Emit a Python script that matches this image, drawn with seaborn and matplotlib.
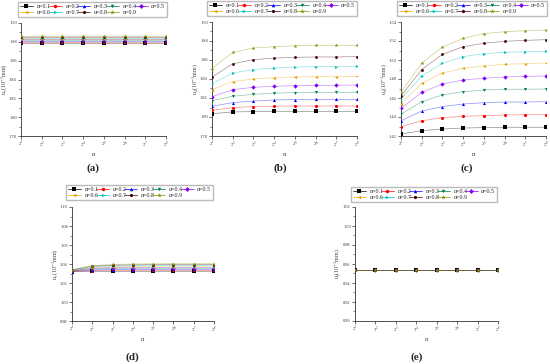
import numpy as np
import pandas as pd
import matplotlib
matplotlib.use('Agg')
import matplotlib.pyplot as plt
import seaborn as sns
from matplotlib.lines import Line2D

# データ
n_vals = [2, 4, 8, 16, 32, 64, 128, 256]
alphas = ['0.1', '0.2', '0.3', '0.4', '0.5', '0.6', '0.7', '0.8', '0.9']

# (a) ほぼ一定
u_a = {
    '0.1': [1.8790] * 8, '0.2': [1.8799] * 8, '0.3': [1.8808] * 8,
    '0.4': [1.8817] * 8, '0.5': [1.8826] * 8, '0.6': [1.8835] * 8,
    '0.7': [1.8843] * 8, '0.8': [1.8851] * 8, '0.9': [1.8860] * 8,
}
# (b)
u_b = {
    '0.1': [1.8035, 1.8053, 1.8057, 1.8060, 1.8060, 1.8060, 1.8060, 1.8060],
    '0.2': [1.8070, 1.8099, 1.8110, 1.8113, 1.8116, 1.8116, 1.8116, 1.8116],
    '0.3': [1.8113, 1.8152, 1.8168, 1.8179, 1.8183, 1.8186, 1.8186, 1.8186],
    '0.4': [1.8173, 1.8218, 1.8239, 1.8250, 1.8257, 1.8260, 1.8260, 1.8260],
    '0.5': [1.8215, 1.8288, 1.8313, 1.8323, 1.8330, 1.8334, 1.8334, 1.8337],
    '0.6': [1.8288, 1.8373, 1.8400, 1.8415, 1.8421, 1.8425, 1.8425, 1.8428],
    '0.7': [1.8350, 1.8463, 1.8499, 1.8516, 1.8526, 1.8530, 1.8530, 1.8534],
    '0.8': [1.8420, 1.8560, 1.8604, 1.8620, 1.8628, 1.8632, 1.8632, 1.8636],
    '0.9': [1.8510, 1.8680, 1.8726, 1.8740, 1.8750, 1.8755, 1.8755, 1.8755],
}
# (c)
u_c = {
    '0.1': [1.4220, 1.4256, 1.4274, 1.4284, 1.4288, 1.4292, 1.4292, 1.4292],
    '0.2': [1.4300, 1.4360, 1.4393, 1.4407, 1.4414, 1.4421, 1.4424, 1.4424],
    '0.3': [1.4360, 1.4463, 1.4509, 1.4537, 1.4551, 1.4558, 1.4558, 1.4561],
    '0.4': [1.4430, 1.4560, 1.4632, 1.4666, 1.4684, 1.4692, 1.4692, 1.4695],
    '0.5': [1.4490, 1.4660, 1.4747, 1.4790, 1.4807, 1.4821, 1.4828, 1.4832],
    '0.6': [1.4540, 1.4755, 1.4863, 1.4913, 1.4937, 1.4955, 1.4961, 1.4968],
    '0.7': [1.4590, 1.4832, 1.4965, 1.5035, 1.5067, 1.5081, 1.5087, 1.5091],
    '0.8': [1.4620, 1.4900, 1.5060, 1.5140, 1.5176, 1.5197, 1.5207, 1.5214],
    '0.9': [1.4660, 1.4965, 1.5137, 1.5228, 1.5277, 1.5298, 1.5308, 1.5316],
}
# (d)
u_d = {
    '0.1': [1.0320, 1.0322, 1.0323, 1.0323, 1.0323, 1.0323, 1.0323, 1.0323],
    '0.2': [1.0322, 1.0330, 1.0332, 1.0333, 1.0333, 1.0333, 1.0333, 1.0333],
    '0.3': [1.0325, 1.0338, 1.0341, 1.0342, 1.0343, 1.0343, 1.0343, 1.0343],
    '0.4': [1.0328, 1.0347, 1.0351, 1.0352, 1.0353, 1.0353, 1.0353, 1.0353],
    '0.5': [1.0330, 1.0355, 1.0360, 1.0362, 1.0363, 1.0363, 1.0363, 1.0363],
    '0.6': [1.0332, 1.0362, 1.0368, 1.0370, 1.0371, 1.0371, 1.0371, 1.0371],
    '0.7': [1.0335, 1.0370, 1.0378, 1.0381, 1.0382, 1.0383, 1.0383, 1.0383],
    '0.8': [1.0337, 1.0377, 1.0387, 1.0391, 1.0393, 1.0394, 1.0394, 1.0394],
    '0.9': [1.0340, 1.0383, 1.0395, 1.0400, 1.0402, 1.0403, 1.0403, 1.0403],
}
# (e) 一定
u_e = {a: [0.9535] * 8 for a in alphas}

colors = {'0.1': '#000000', '0.2': '#FF0000', '0.3': '#0000FF', '0.4': '#008040',
          '0.5': '#8000FF', '0.6': '#E6A000', '0.7': '#00C0C0', '0.8': '#400000',
          '0.9': '#909000'}
markers = {'0.1': 's', '0.2': 'o', '0.3': '^', '0.4': 'v', '0.5': 'D',
           '0.6': '<', '0.7': '>', '0.8': 'h', '0.9': '*'}

panels = [
    ('(a)', u_a, (1.78, 1.90), 'u$_s$(10$^{-3}$mm)', [21, 136, 145, 113], [15, 3, 155, 17], (93, 168)),
    ('(b)', u_b, (1.78, 1.90), 'u$_d$(10$^{-3}$mm)', [212, 136, 145, 114], [204, 3, 156, 16], (280, 168)),
    ('(c)', u_c, (1.42, 1.54), 'u$_d$(10$^{-3}$mm)', [401, 136, 145, 114], [394, 3, 156, 16], (467, 168)),
    ('(d)', u_d, (0.98, 1.10), 'u$_r$(10$^{-3}$mm)', [72, 321, 142, 114], [63, 188, 153, 15], (132, 357)),
    ('(e)', u_e, (0.90, 1.02), 'u$_f$(10$^{-3}$mm)', [355, 321, 143, 114], [348, 189, 152, 16], (417, 357)),
]

# 凡例は行方向に並べる（matplotlibは列方向に埋めるので並べ替え）
legend_order = [0, 5, 1, 6, 2, 7, 3, 8, 4]

sns.set_style('ticks')
plt.rcParams['font.family'] = ['Liberation Serif', 'DejaVu Serif']
plt.rcParams['mathtext.fontset'] = 'stix'

W, H = 550, 364
fig = plt.figure(figsize=(W / 100, H / 100), dpi=100)

for tag, data, ylim, ylabel, (l, b, w, h), (lx, ly, lw, lh), (tx, ty) in panels:
    ax = fig.add_axes([l / W, 1 - b / H, w / W, h / H])
    rows = []
    for a in alphas:
        for n, v in zip(n_vals, data[a]):
            rows.append({'n': n, 'u': v, 'alpha': a})
    df = pd.DataFrame(rows)
    sns.lineplot(data=df, x='n', y='u', hue='alpha', palette=colors, linewidth=0.5,
                 alpha=0.45, legend=False, ax=ax)
    for a in alphas:
        sub = df[df['alpha'] == a]
        ms = 9 if markers[a] == '*' else 5
        sns.scatterplot(data=sub, x='n', y='u', color=colors[a], marker=markers[a],
                        s=ms, linewidth=0, legend=False, ax=ax, zorder=3)
    ax.set_xscale('log', base=2)
    ax.set_xlim(2, 256)
    ax.set_xticks(n_vals)
    ax.set_xticklabels([f'$2^{{{k}}}$' for k in range(1, 9)])
    ax.minorticks_off()
    ax.set_ylim(*ylim)
    yt = np.round(np.arange(ylim[0], ylim[1] + 0.001, 0.02), 2)
    ax.set_yticks(yt)
    ax.set_yticklabels([f'{v:.2f}' for v in yt])
    ax.set_yticks(np.arange(ylim[0] + 0.01, ylim[1], 0.02), minor=True)
    ax.tick_params(axis='both', labelsize=3.2, length=2, width=0.5, pad=1.0, colors='#333333')
    ax.tick_params(axis='y', which='minor', length=1.2, width=0.4)
    ax.tick_params(axis='x', which='minor', length=0)
    sns.despine(ax=ax)
    for s in ['left', 'bottom']:
        ax.spines[s].set_linewidth(0.6)
        ax.spines[s].set_color('#333333')
    ax.set_xlabel('n', fontsize=5, labelpad=2, color='#444444')
    ax.set_ylabel(ylabel, fontsize=4.3, color='#444444')
    ax.yaxis.set_label_coords(-11 / w, 0.5)

    handles = [Line2D([0], [0], color=colors[a], marker=markers[a], markersize=2.5 if markers[a] != '*' else 3.5,
                      linewidth=0.5, markeredgewidth=0) for a in alphas]
    labels = [f'α={a}' for a in alphas]
    fig.legend([handles[i] for i in legend_order], [labels[i] for i in legend_order],
               ncol=5, fontsize=4.3, frameon=True, fancybox=False,
               edgecolor='#aaaaaa', handlelength=2.2, handletextpad=0.6, columnspacing=1.2,
               borderpad=0.3, labelspacing=0.15, mode='expand',
               bbox_to_anchor=(lx / W, 1 - (ly + lh) / H, lw / W, lh / H), loc='lower left')
    fig.text(tx / W, 1 - ty / H, tag, fontsize=8, fontweight='bold', ha='center', va='center')

fig.savefig('out.png', dpi=100)
